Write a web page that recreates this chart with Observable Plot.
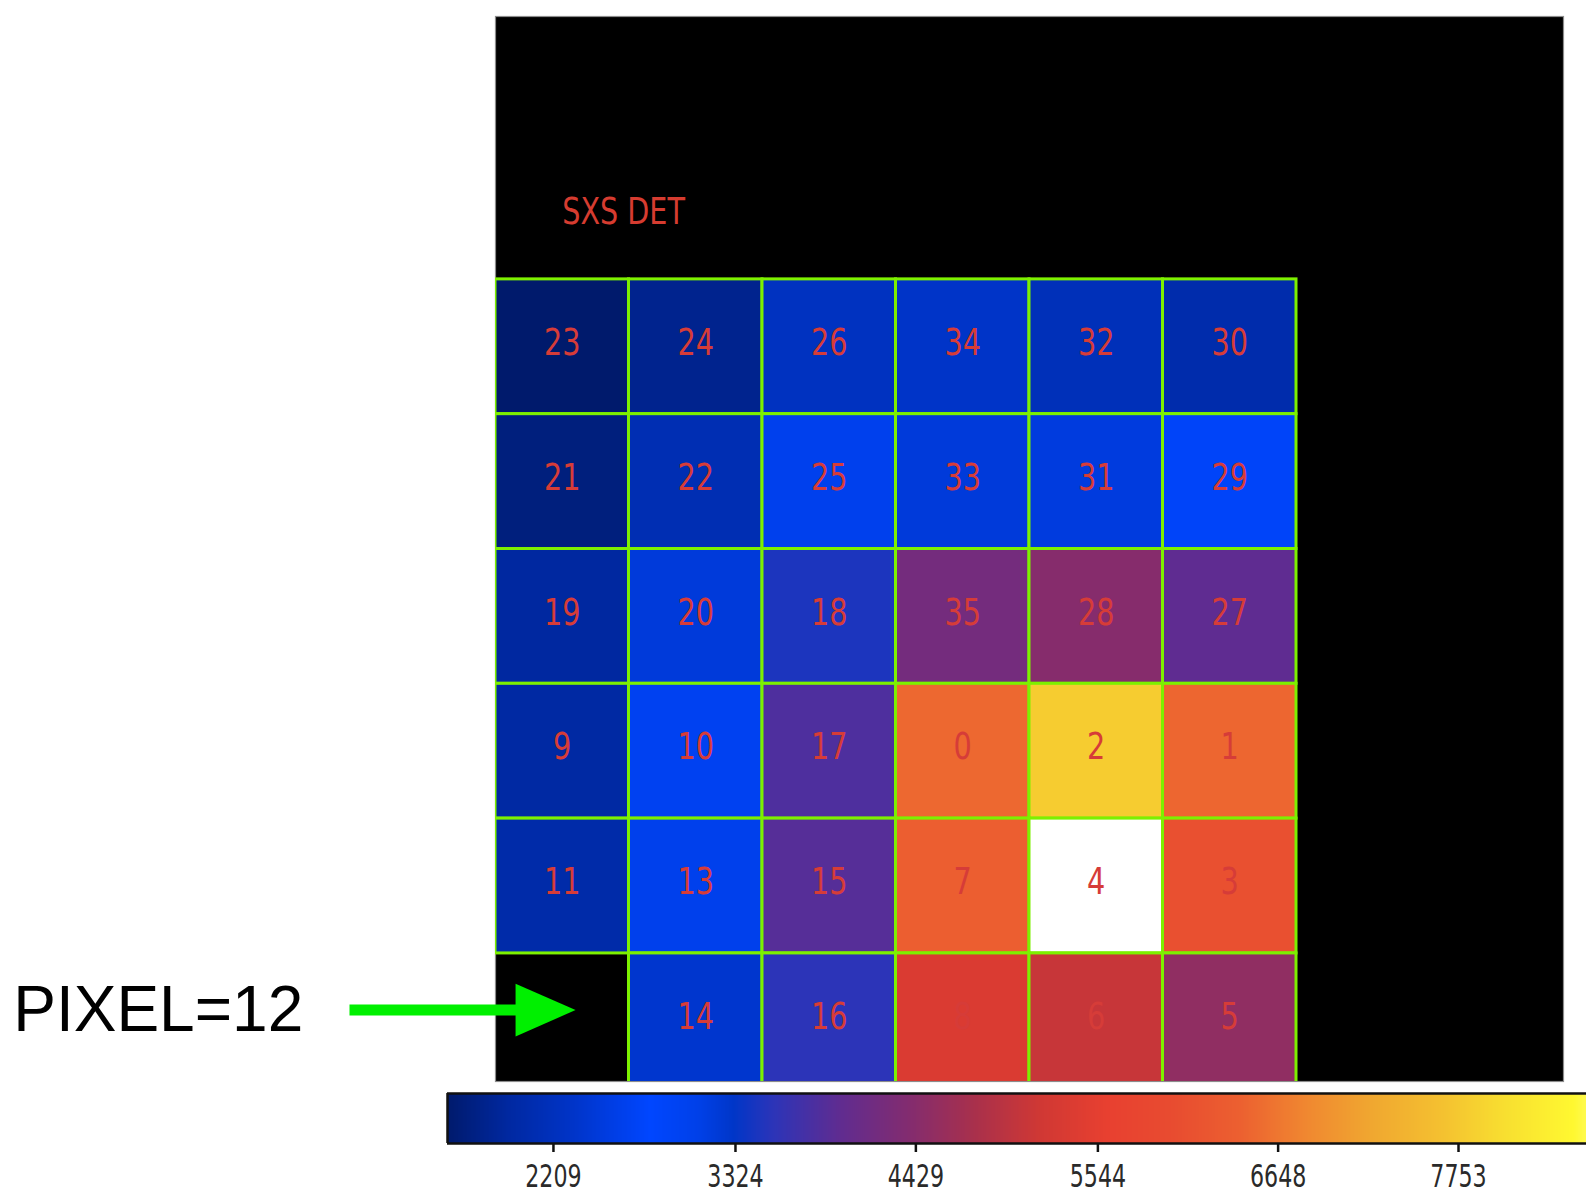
<!DOCTYPE html>
<html>
<head>
<meta charset="utf-8">
<script src="https://cdn.jsdelivr.net/npm/d3@7"></script>
<script src="https://cdn.jsdelivr.net/npm/@observablehq/plot@0.6"></script>
<style>
html, body { margin: 0; padding: 0; background: #fff; }
#wrap { position: relative; width: 1586px; height: 1195px; overflow: hidden; background: #fff; }
#main { position: absolute; left: 0; top: 0; }
#cbar { position: absolute; left: 0; top: 1085px; }
</style>
</head>
<body>
<div id="wrap"><div id="main"></div><div id="cbar"></div></div>
<script>
// ---- data ----
// detector layout, rows top -> bottom, columns left -> right (pixel ids)
const layoutRows = [
  [23, 24, 26, 34, 32, 30],
  [21, 22, 25, 33, 31, 29],
  [19, 20, 18, 35, 28, 27],
  [9, 10, 17, 0, 2, 1],
  [11, 13, 15, 7, 4, 3],
  [12, 14, 16, 8, 6, 5]
];
// counts per pixel id 0..35 (estimated from colours); pixel 12 has no data
const pixelCounts = [6500, 6480, 7800, 6090, 9000, 4530, 5100, 6380, 5370, 1960,
                     2680, 2020, null, 2640, 2380, 3888, 3557, 3825, 3468, 1930,
                     2480, 1680, 2120, 1560, 1800, 2650, 2250, 3960, 4420, 2750,
                     2050, 2520, 2180, 2480, 2330, 4210];
// colormap (value stops and colours)
const cmapValues = [1560, 1930, 2330, 2800, 3100, 3312, 3557, 3967, 4378, 4782, 5192, 5603, 6007, 6418, 6828, 7232, 7643, 8053, 8457, 8700, 8900];
const cmapColors = ["#001a6c", "#0028a0", "#0034c8", "#0046ff", "#0040e8", "#0036c8", "#2c34b8", "#602c90", "#822c70", "#a8304c", "#d03834", "#e84030", "#e84c30", "#ec6030", "#f08830", "#f0a830", "#f4c030", "#f8e030", "#fff830", "#ffff90", "#ffffff"];
// colorbar
const cbarDomain = [1560, 8537];
const cbarTicks = [2209, 3324, 4429, 5544, 6648, 7753];
const titleText = "SXS DET";
const missingPixel = 12;
const pointerLabel = "PIXEL=12";

// ---- build table ----
const cells = [];
layoutRows.forEach((row, r) => row.forEach((id, c) => cells.push({id, col: c, row: r, count: pixelCounts[id]})));
const valid = cells.filter(d => d.count != null);
const missing = cells.find(d => d.id === missingPixel);

const narrow = "'Liberation Sans Narrow', 'DejaVu Sans Condensed', 'DejaVu Sans', sans-serif";
const colorScale = {type: "linear", domain: cmapValues, range: cmapColors, clamp: true, interpolate: "rgb"};

const headSymbol = {
  draw(ctx, size) {
    const s = Math.sqrt(size / Math.PI);
    ctx.moveTo(s, 0);
    ctx.lineTo(-s, -s * 0.88);
    ctx.lineTo(-s, s * 0.88);
    ctx.closePath();
  }
};

const main = Plot.plot({
  width: 1586, height: 1085,
  marginLeft: 495, marginRight: 23, marginTop: 16, marginBottom: 4,
  x: {domain: [0, 8], axis: null},
  y: {domain: [-1.95, 5.95], reverse: true, axis: null},
  color: colorScale,
  style: {background: "transparent", overflow: "visible"},
  marks: [
    Plot.frame({fill: "black", stroke: "#8c8c8c", strokeWidth: 1.2}),
    Plot.rect(valid, {x1: "col", x2: d => d.col + 1, y1: "row", y2: d => d.row + 1,
      fill: "count", stroke: "#7df000", strokeWidth: 3, clip: true}),
    Plot.text(valid, {x: d => d.col + 0.5, y: d => d.row + 0.5, dy: -4, text: d => String(d.id),
      fill: "#d63c38", fontSize: 38, fontFamily: narrow}),
    Plot.text([titleText], {x: 0.5, y: -0.5, text: d => d, textAnchor: "start",
      fill: "#d63c30", fontSize: 37, fontFamily: narrow, letterSpacing: "1px"}),
    // pointer to the missing pixel
    Plot.ruleY([missing], {y: d => d.row + 0.42, x1: d => d.col - 1.09, x2: d => d.col + 0.2,
      stroke: "#00f000", strokeWidth: 11}),
    Plot.dot([missing], {x: d => d.col + 0.375, y: d => d.row + 0.42, r: 30, symbol: headSymbol,
      fill: "#00f000", stroke: "none"}),
    Plot.text([missing], {x: d => d.col - 1.44, y: d => d.row + 0.42, text: () => pointerLabel,
      textAnchor: "end", fill: "#000", fontSize: 64, fontFamily: "'Liberation Sans', Arial, sans-serif"})
  ]
});
document.getElementById("main").appendChild(main);

const step = 5;
const grad = d3.range(cbarDomain[0], cbarDomain[1], step);
const cbar = Plot.plot({
  width: 1586, height: 110,
  marginLeft: 447, marginRight: 0, marginTop: 8, marginBottom: 52,
  x: {domain: cbarDomain, axis: null},
  y: {domain: [0, 1], axis: null},
  color: colorScale,
  style: {background: "transparent", overflow: "visible", color: "#2a2a2a", fontFamily: narrow, fontSize: "32px"},
  marks: [
    Plot.rect(grad, {x1: d => d, x2: d => d + step * 1.3, y1: 0, y2: 1, fill: d => d, shapeRendering: "crispEdges"}),
    Plot.ruleY([0, 1], {stroke: "#111", strokeWidth: 2.5}),
    Plot.ruleX([cbarDomain[0]], {stroke: "#111", strokeWidth: 2.5}),
    Plot.axisX(cbarTicks, {anchor: "bottom", tickSize: 9, tickPadding: 12, strokeWidth: 2.5, stroke: "#111",
      tickFormat: d => String(d), fontSize: 32, fontFamily: narrow, fill: "#2a2a2a"})
  ]
});
document.getElementById("cbar").appendChild(cbar);

// condense the narrow-style labels (the display font is a condensed face)
function condense(svg, ratio, keep) {
  svg.querySelectorAll("text").forEach(t => {
    if (keep && !keep(t)) return;
    const w = t.getComputedTextLength();
    if (w > 0) {
      t.setAttribute("textLength", (w * ratio).toFixed(1));
      t.setAttribute("lengthAdjust", "spacingAndGlyphs");
    }
  });
}
condense(main, 0.84, t => t.textContent !== pointerLabel && t.textContent !== titleText);
condense(main, 0.86, t => t.textContent === titleText);
condense(cbar, 0.77);
</script>
</body>
</html>
